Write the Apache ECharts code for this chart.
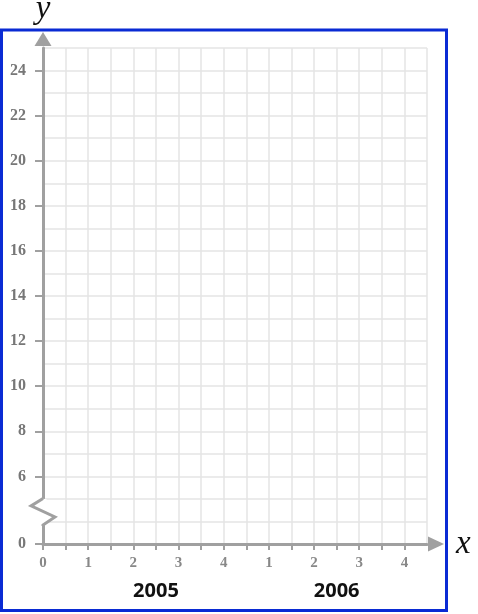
<!DOCTYPE html>
<html>
<head>
<meta charset="utf-8">
<script src="https://cdn.jsdelivr.net/npm/echarts@6/dist/echarts.min.js"></script>
<style>
  html, body { margin: 0; padding: 0; background: #fff; }
  #main { width: 478px; height: 614px; }
</style>
</head>
<body>
<div id="main"></div>
<script>
// x positions run in half steps: quarters 0-4 of 2005 then 1-4 of 2006
const xTickLabels = ['0', '', '1', '', '2', '', '3', '', '4', '', '1', '', '2', '', '3', '', '4', ''];
const yearLabels = ['', '', '', '', '', '2005', '', '', '', '', '', '', '', '2006', '', '', '', ''];
// y grid levels from the broken-axis zero up to 25
const yTickLabels = ['0', '', '', '6', '', '8', '', '10', '', '12', '', '14', '', '16', '', '18', '', '20', '', '22', '', '24', ''];
// the zigzag break sits on the level just below 6
const breakAnchor = [[0, 2]];

const axisGrey = '#a0a0a0';
const gridGrey = '#e4e4e4';

let chart = echarts.init(document.getElementById('main'));

let xSlots = xTickLabels.map(function (_, i) { return String(i); });
let ySlots = yTickLabels.map(function (_, i) { return String(i); });

let option = {
    animation: false,
    grid: {
        left: 43,
        top: 48,
        right: 51,
        bottom: 70,
        containLabel: false,
        outerBoundsMode: 'none'
    },
    xAxis: [{
        type: 'category',
        position: 'bottom',
        data: xSlots,
        boundaryGap: false,
        name: 'x',
        nameLocation: 'end',
        nameGap: 29,
        nameTextStyle: {
            fontFamily: 'Liberation Serif',
            fontStyle: 'italic',
            fontSize: 33,
            color: '#111'
        },
        axisLine: {
            show: true,
            symbol: ['none', 'triangle'],
            symbolSize: [15, 16],
            symbolOffset: [0, 9],
            lineStyle: { color: axisGrey, width: 3 }
        },
        axisTick: {
            show: true,
            inside: false,
            length: 6,
            interval: function (index) { return index < xTickLabels.length - 1; },
            lineStyle: { color: axisGrey, width: 2 }
        },
        axisLabel: {
            interval: 0,
            margin: 12,
            fontFamily: 'Liberation Serif',
            fontWeight: 'bold',
            fontSize: 15,
            color: '#888',
            formatter: function (value, index) { return xTickLabels[index]; }
        },
        splitLine: {
            show: true,
            interval: 0,
            lineStyle: { color: gridGrey, width: 1.5 }
        }
    }, {
        type: 'category',
        position: 'bottom',
        data: xSlots,
        boundaryGap: false,
        axisLine: { show: false },
        axisTick: { show: false },
        splitLine: { show: false },
        axisLabel: {
            interval: 0,
            margin: 37,
            fontFamily: 'Noto Sans',
            fontWeight: 'bold',
            fontSize: 20,
            color: '#111',
            formatter: function (value, index) { return yearLabels[index]; }
        }
    }],
    yAxis: {
        type: 'category',
        data: ySlots,
        boundaryGap: false,
        name: 'y',
        nameLocation: 'end',
        nameGap: 22,
        nameTextStyle: {
            fontFamily: 'Liberation Serif',
            fontStyle: 'italic',
            fontSize: 33,
            color: '#111'
        },
        axisLine: {
            show: true,
            symbol: ['none', 'triangle'],
            symbolSize: [17, 14],
            symbolOffset: [0, 9],
            lineStyle: { color: axisGrey, width: 3 }
        },
        axisTick: {
            show: true,
            inside: false,
            length: 8,
            interval: function (index) { return yTickLabels[index] !== ''; },
            lineStyle: { color: axisGrey, width: 2 }
        },
        axisLabel: {
            interval: 0,
            margin: 17,
            fontFamily: 'Liberation Serif',
            fontWeight: 'bold',
            fontSize: 16,
            color: '#777',
            formatter: function (value, index) { return yTickLabels[index]; }
        },
        splitLine: {
            show: true,
            interval: 0,
            lineStyle: { color: gridGrey, width: 1.5 }
        }
    },
    series: [{
        // zigzag break drawn on the y axis
        type: 'custom',
        xAxisIndex: 0,
        yAxisIndex: 0,
        data: breakAnchor,
        silent: true,
        z: 5,
        renderItem: function (params, api) {
            let top = api.coord([api.value(0), api.value(1)]);
            let below = api.coord([api.value(0), api.value(1) - 1]);
            let s = below[1] - top[1];
            let x = top[0];
            let y0 = top[1];
            let y3 = y0 + 1.16 * s;
            return {
                type: 'group',
                children: [{
                    type: 'rect',
                    shape: { x: x - 3.5, y: y0, width: 7, height: y3 - y0 },
                    style: { fill: '#fff' }
                }, {
                    type: 'polyline',
                    shape: {
                        points: [
                            [x, y0 - 0.5],
                            [x - 0.53 * s, y0 + 0.31 * s],
                            [x + 0.53 * s, y0 + 0.8 * s],
                            [x, y3],
                            [x, y3 + 1]
                        ]
                    },
                    style: { stroke: axisGrey, lineWidth: 3, fill: null, lineJoin: 'miter' }
                }]
            };
        }
    }],
    graphic: [{
        type: 'rect',
        z: 100,
        shape: { x: 1.5, y: 30, width: 445, height: 580.5 },
        style: { fill: null, stroke: '#0a2bd4', lineWidth: 3 }
    }]
};

chart.setOption(option);
</script>
</body>
</html>
